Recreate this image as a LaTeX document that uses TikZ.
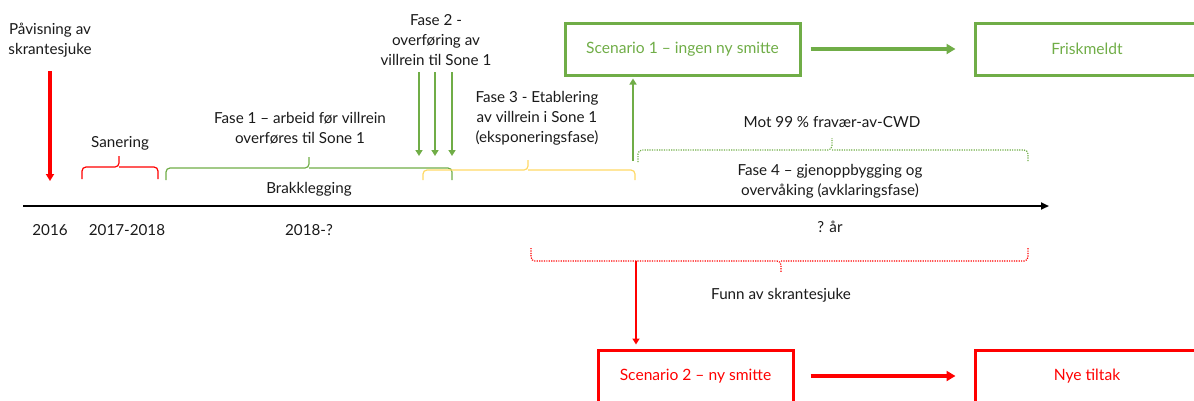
\documentclass[tikz,border=0pt]{standalone}
\usepackage{fontspec}
\setmainfont{Lato}
\usetikzlibrary{arrows.meta}
\definecolor{cgreen}{HTML}{70AD47}
\definecolor{cred}{HTML}{FF0000}
\definecolor{cyellow}{HTML}{FFD966}
\definecolor{ctext}{HTML}{1A1A1A}
\begin{document}
\begin{tikzpicture}[x=1pt,y=-1pt,
  lbl/.style={font=\fontsize{15.2}{20}\selectfont, align=center, inner sep=0pt, text=ctext},
  box/.style={draw, line width=3pt, minimum height=52pt, inner sep=0pt, font=\fontsize{15.6}{19}\selectfont},
  gbox/.style={box, draw=cgreen, text=cgreen},
  rbox/.style={box, draw=cred, text=cred},
  bigarrow/.style={line width=4pt, -{Triangle[length=9pt,width=10pt]}},
  midarrow/.style={line width=3.5pt, -{Triangle[length=7pt,width=8pt]}},
  thinarrow/.style={line width=2.7pt, -{Triangle[length=6pt,width=7pt]}},
  bracel/.style={line width=1.2pt, rounded corners=4pt},
  dotbrace/.style={bracel, dash pattern=on 1.2pt off 1.2pt},
]
\useasboundingbox (0,0) rectangle (1194,400);

% timeline
\coordinate (tl0) at (23,206);
\coordinate (tl1) at (1049,206);
\draw[line width=2pt, -{Triangle[length=8pt,width=7pt]}] (tl0) -- (tl1);

% labels
\node[lbl] (pav) at (50,40) {Påvisning av\\skrantesjuke};
\node[lbl] (san) at (120,143) {Sanering};
\node[lbl] (f1) at (300,128) {Fase 1 – arbeid før villrein\\overføres til Sone 1};
\node[lbl] (brak) at (309,189) {Brakklegging};
\node[lbl] (f2) at (436,40) {Fase 2 -\\overføring av\\villrein til Sone 1};
\node[lbl] (f3) at (537,118) {Fase 3 - Etablering\\av villrein i Sone 1\\(eksponeringsfase)};
\node[lbl] (mot) at (832,122) {Mot 99 \% fravær-av-CWD};
\node[lbl] (f4) at (830,181) {Fase 4 – gjenoppbygging og\\overvåking (avklaringsfase)};
\node[lbl] (y16) at (50,230) {2016};
\node[lbl] (y17) at (127,230) {2017-2018};
\node[lbl] (y18) at (309,230) {2018-?};
\node[lbl] (yq) at (830,227) {? år};
\node[lbl] (funn) at (781,295) {Funn av skrantesjuke};

% boxes
\node[gbox, minimum width=235pt] (s1) at (682.5,49) {Scenario 1 – ingen ny smitte};
\node[gbox, minimum width=230pt] (fr) at (1090,49) {\hspace*{-6pt}Friskmeldt};
\node[rbox, minimum width=195pt] (s2) at (695.5,376) {Scenario 2 – ny smitte};
\node[rbox, minimum width=230pt] (ny) at (1090,376) {\hspace*{-6pt}Nye tiltak};

% left red arrow
\coordinate (r1s) at (50,71);
\coordinate (r1e) at (50,181);
\draw[cred, midarrow] (r1s) -- (r1e);

% fase 2 arrows
\foreach \x/\n in {419/a,435/b,452/c}{
  \coordinate (f2s\n) at (\x,72);
  \coordinate (f2e\n) at (\x,156);
  \draw[cgreen, thinarrow] (f2s\n) -- (f2e\n);
}

% braces
\draw[cred, bracel] (82,179) |- (119,167) -- (119,156);
\draw[cred, bracel] (119,167) -| (158,179);
\draw[cgreen, bracel] (166,180) |- (309,168) -- (309,157);
\draw[cgreen, bracel] (309,168) -| (452,180);
\draw[cyellow, bracel] (423,180) |- (528,170) -- (528,160);
\draw[cyellow, bracel] (528,170) -| (635,180);
\draw[cgreen, dotbrace] (638,162) |- (832,150) -- (832,138);
\draw[cgreen, dotbrace] (832,150) -| (1028,162);
\draw[cred, dotbrace] (531,248) |- (781,261) -- (781,272);
\draw[cred, dotbrace] (781,261) -| (1028,248);

% up arrow to scenario 1
\coordinate (up1) at (633,161);
\draw[cgreen, thinarrow, shorten >=2pt] (up1) -- (up1 |- s1.south);

% red down arrow to scenario 2
\coordinate (dn1) at (636,261);
\draw[cred, thinarrow, shorten >=4pt] (dn1) -- (dn1 |- s2.north);

% horizontal arrows
\draw[cgreen, bigarrow, shorten <=9pt, shorten >=18pt] (s1.east) -- (fr.west);
\draw[cred, bigarrow, shorten <=16pt, shorten >=18pt] (s2.east) -- (ny.west);
\end{tikzpicture}
\end{document}
